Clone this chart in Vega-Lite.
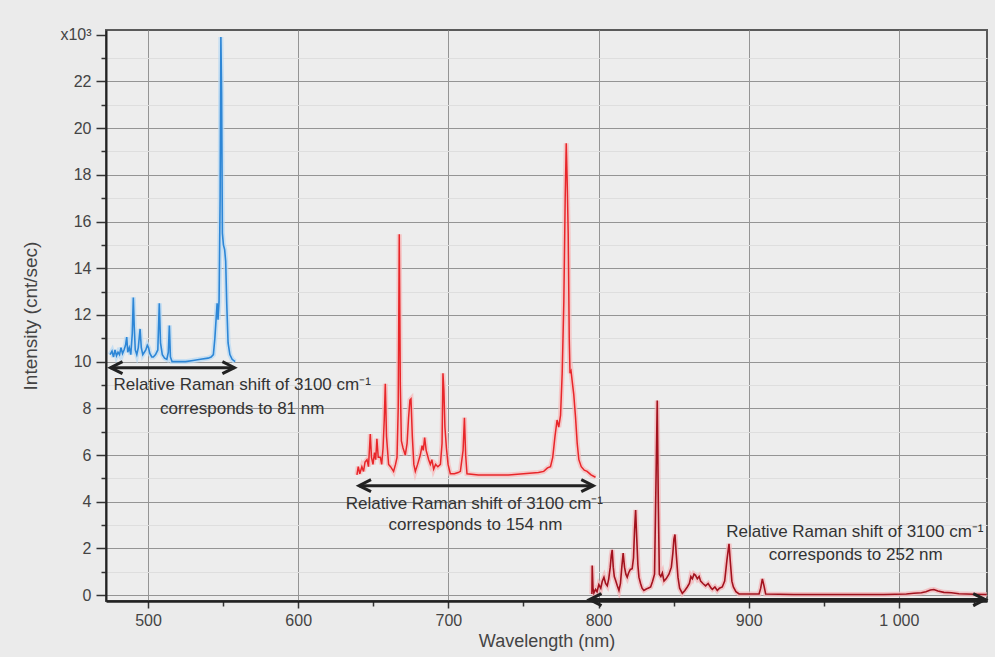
{
  "$schema": "https://vega.github.io/schema/vega-lite/v6.json",
  "width": 881,
  "height": 571,
  "autosize": {"type": "none"},
  "padding": {"left": 106, "top": 30, "right": 8, "bottom": 56},
  "background": "#ebebeb",
  "config": {
    "view": {"fill": "#ededed", "stroke": "#5a5a5a", "strokeWidth": 2},
    "font": "Liberation Sans",
    "axis": {
      "labelFont": "Liberation Sans",
      "titleFont": "Liberation Sans",
      "labelColor": "#444",
      "titleColor": "#444",
      "titleFontWeight": "normal",
      "domainColor": "#222",
      "tickColor": "#333",
      "tickWidth": 1.5
    }
  },
  "datasets": {
    "blue": [
      {"wl": 474.7, "I": 10.3}, {"wl": 476, "I": 10.45}, {"wl": 477, "I": 10.2}, {"wl": 478, "I": 10.5},
      {"wl": 479, "I": 10.25}, {"wl": 480, "I": 10.4}, {"wl": 481, "I": 10.3}, {"wl": 482, "I": 10.6},
      {"wl": 483, "I": 10.35}, {"wl": 484, "I": 10.5}, {"wl": 485, "I": 10.7}, {"wl": 485.8, "I": 11.05},
      {"wl": 486.5, "I": 10.4}, {"wl": 487.5, "I": 10.6}, {"wl": 488.5, "I": 10.3}, {"wl": 489.5, "I": 11.2},
      {"wl": 490.2, "I": 12.75}, {"wl": 490.8, "I": 11.5}, {"wl": 491.5, "I": 10.5}, {"wl": 492.5, "I": 10.3},
      {"wl": 493.5, "I": 10.6}, {"wl": 494.7, "I": 11.4}, {"wl": 495.5, "I": 10.6}, {"wl": 496.5, "I": 10.3},
      {"wl": 497.5, "I": 10.4}, {"wl": 498.5, "I": 10.5}, {"wl": 499.5, "I": 10.7}, {"wl": 500.3, "I": 10.6},
      {"wl": 501.2, "I": 10.35}, {"wl": 502.5, "I": 10.2}, {"wl": 503.5, "I": 10.2}, {"wl": 505, "I": 10.3},
      {"wl": 506.5, "I": 10.5}, {"wl": 507.5, "I": 12.5}, {"wl": 508.3, "I": 10.8}, {"wl": 509.5, "I": 10.3},
      {"wl": 511, "I": 10.15}, {"wl": 512.5, "I": 10.1}, {"wl": 513.5, "I": 10.4}, {"wl": 514.2, "I": 11.55},
      {"wl": 514.9, "I": 10.2}, {"wl": 516, "I": 10.0}, {"wl": 520, "I": 10.0}, {"wl": 525, "I": 10.0},
      {"wl": 530, "I": 10.05}, {"wl": 535, "I": 10.1}, {"wl": 540, "I": 10.15}, {"wl": 542, "I": 10.2},
      {"wl": 543.5, "I": 10.3}, {"wl": 544.5, "I": 11.0}, {"wl": 545.5, "I": 12.0}, {"wl": 546, "I": 12.5},
      {"wl": 546.6, "I": 11.8}, {"wl": 547.3, "I": 12.6}, {"wl": 548, "I": 17}, {"wl": 548.5, "I": 23.9},
      {"wl": 549, "I": 21.5}, {"wl": 549.5, "I": 15.5}, {"wl": 550.2, "I": 15.0}, {"wl": 551, "I": 14.8},
      {"wl": 551.7, "I": 14.3}, {"wl": 552.4, "I": 12.5}, {"wl": 553.3, "I": 10.8}, {"wl": 554.5, "I": 10.3},
      {"wl": 556, "I": 10.1}, {"wl": 558, "I": 10.0}
    ],
    "red": [
      {"wl": 639.1, "I": 5.15}, {"wl": 640, "I": 5.5}, {"wl": 641, "I": 5.2}, {"wl": 642.4, "I": 5.5},
      {"wl": 643.5, "I": 5.3}, {"wl": 644.5, "I": 5.7}, {"wl": 645.8, "I": 5.8}, {"wl": 646.8, "I": 5.5},
      {"wl": 648, "I": 6.9}, {"wl": 648.8, "I": 5.9}, {"wl": 649.8, "I": 5.6}, {"wl": 650.8, "I": 6.1},
      {"wl": 651.6, "I": 5.8}, {"wl": 652.4, "I": 6.7}, {"wl": 653.3, "I": 5.9}, {"wl": 654.7, "I": 5.9},
      {"wl": 655.6, "I": 5.6}, {"wl": 656.5, "I": 6.3}, {"wl": 657.3, "I": 7.5}, {"wl": 658, "I": 9.05},
      {"wl": 658.8, "I": 6.8}, {"wl": 660.2, "I": 5.6}, {"wl": 661.5, "I": 5.5}, {"wl": 663.5, "I": 5.3},
      {"wl": 664.8, "I": 5.6}, {"wl": 665.8, "I": 5.9}, {"wl": 666.6, "I": 8}, {"wl": 667.3, "I": 15.45},
      {"wl": 668, "I": 9}, {"wl": 668.7, "I": 6.6}, {"wl": 669.8, "I": 6.3}, {"wl": 671.3, "I": 6.0},
      {"wl": 672.5, "I": 6.5}, {"wl": 673.5, "I": 7.6}, {"wl": 674.4, "I": 8.35}, {"wl": 675.1, "I": 8.4},
      {"wl": 676, "I": 6.8}, {"wl": 677, "I": 5.6}, {"wl": 678, "I": 5.3}, {"wl": 679.5, "I": 5.6},
      {"wl": 681.3, "I": 6.0}, {"wl": 682.5, "I": 6.4}, {"wl": 683.3, "I": 6.2}, {"wl": 684.2, "I": 6.75},
      {"wl": 685.2, "I": 6.2}, {"wl": 686.9, "I": 5.8}, {"wl": 688, "I": 5.6}, {"wl": 689, "I": 5.8},
      {"wl": 690.2, "I": 5.4}, {"wl": 691.5, "I": 5.6}, {"wl": 693, "I": 5.5}, {"wl": 694.7, "I": 5.6},
      {"wl": 695.8, "I": 6.5}, {"wl": 696.4, "I": 9.5}, {"wl": 697, "I": 8.8}, {"wl": 697.7, "I": 7.2},
      {"wl": 698.7, "I": 6.3}, {"wl": 699.8, "I": 5.6}, {"wl": 701.3, "I": 5.2}, {"wl": 704, "I": 5.2},
      {"wl": 706.5, "I": 5.25}, {"wl": 708, "I": 5.3}, {"wl": 709.8, "I": 6.2}, {"wl": 710.7, "I": 7.6},
      {"wl": 711.5, "I": 6.0}, {"wl": 712.4, "I": 5.2}, {"wl": 720, "I": 5.15}, {"wl": 730, "I": 5.15},
      {"wl": 740, "I": 5.15}, {"wl": 750, "I": 5.2}, {"wl": 760, "I": 5.25}, {"wl": 763.5, "I": 5.3},
      {"wl": 766, "I": 5.45}, {"wl": 768, "I": 5.5}, {"wl": 769.5, "I": 5.9}, {"wl": 771, "I": 6.8},
      {"wl": 772.4, "I": 7.5}, {"wl": 773.5, "I": 7.2}, {"wl": 774.7, "I": 7.7}, {"wl": 775.8, "I": 9.5},
      {"wl": 776.9, "I": 12.6}, {"wl": 777.8, "I": 17}, {"wl": 778.5, "I": 19.35}, {"wl": 779.2, "I": 17.5},
      {"wl": 779.8, "I": 15.5}, {"wl": 780.5, "I": 11}, {"wl": 781, "I": 9.5}, {"wl": 781.7, "I": 9.6},
      {"wl": 782.4, "I": 9.2}, {"wl": 783.5, "I": 8.6}, {"wl": 784.7, "I": 7.6}, {"wl": 785.8, "I": 6.5},
      {"wl": 786.9, "I": 5.8}, {"wl": 788.5, "I": 5.5}, {"wl": 790.5, "I": 5.35}, {"wl": 792.4, "I": 5.3},
      {"wl": 795, "I": 5.15}, {"wl": 798, "I": 5.05}
    ],
    "dark": [
      {"wl": 795.6, "I": 0.05}, {"wl": 795.8, "I": 1.27}, {"wl": 796.3, "I": 0.3}, {"wl": 796.9, "I": 0.1},
      {"wl": 798, "I": 0.25}, {"wl": 799, "I": 0.15}, {"wl": 800.2, "I": 0.45}, {"wl": 801.5, "I": 0.3},
      {"wl": 802.5, "I": 0.6}, {"wl": 803.6, "I": 0.77}, {"wl": 804.7, "I": 0.5}, {"wl": 805.8, "I": 0.4},
      {"wl": 806.8, "I": 0.7}, {"wl": 807.8, "I": 1.2}, {"wl": 808.5, "I": 1.7}, {"wl": 809.1, "I": 1.94},
      {"wl": 809.8, "I": 1.2}, {"wl": 810.5, "I": 0.8}, {"wl": 811.3, "I": 0.65}, {"wl": 812.5, "I": 0.4},
      {"wl": 813.6, "I": 0.2}, {"wl": 814.6, "I": 0.5}, {"wl": 815.5, "I": 1.2}, {"wl": 816.4, "I": 1.8},
      {"wl": 817.3, "I": 1.2}, {"wl": 818.2, "I": 0.9}, {"wl": 819.1, "I": 0.77}, {"wl": 820, "I": 0.95},
      {"wl": 821.2, "I": 1.1}, {"wl": 822.4, "I": 1.13}, {"wl": 823.3, "I": 1.6}, {"wl": 824, "I": 2.8},
      {"wl": 824.7, "I": 3.65}, {"wl": 825.4, "I": 2.5}, {"wl": 826.2, "I": 1.3}, {"wl": 826.9, "I": 0.77},
      {"wl": 828, "I": 0.5}, {"wl": 829, "I": 0.3}, {"wl": 830.2, "I": 0.2}, {"wl": 831.5, "I": 0.25},
      {"wl": 833, "I": 0.3}, {"wl": 834.7, "I": 0.35}, {"wl": 836, "I": 0.6}, {"wl": 837.3, "I": 0.9},
      {"wl": 838.3, "I": 5}, {"wl": 839.1, "I": 8.33}, {"wl": 839.8, "I": 4}, {"wl": 840.5, "I": 0.9},
      {"wl": 841.5, "I": 0.8}, {"wl": 842.5, "I": 0.95}, {"wl": 843.6, "I": 0.6}, {"wl": 845, "I": 0.7},
      {"wl": 846.9, "I": 0.9}, {"wl": 848.5, "I": 1.2}, {"wl": 849.5, "I": 1.8}, {"wl": 850.2, "I": 2.4},
      {"wl": 850.9, "I": 2.6}, {"wl": 851.7, "I": 1.8}, {"wl": 852.9, "I": 0.77}, {"wl": 854, "I": 0.3},
      {"wl": 855.8, "I": 0.08}, {"wl": 857.5, "I": 0.2}, {"wl": 859.1, "I": 0.35}, {"wl": 860.5, "I": 0.5},
      {"wl": 861.5, "I": 0.8}, {"wl": 862.5, "I": 0.7}, {"wl": 863.6, "I": 0.9}, {"wl": 864.6, "I": 0.85},
      {"wl": 865.8, "I": 0.7}, {"wl": 867, "I": 0.8}, {"wl": 868, "I": 0.6}, {"wl": 869.5, "I": 0.5},
      {"wl": 871.3, "I": 0.4}, {"wl": 873, "I": 0.5}, {"wl": 875, "I": 0.3}, {"wl": 875.8, "I": 0.25},
      {"wl": 877.5, "I": 0.35}, {"wl": 879.1, "I": 0.2}, {"wl": 880.5, "I": 0.3}, {"wl": 882.4, "I": 0.35},
      {"wl": 884, "I": 0.6}, {"wl": 885.5, "I": 1.5}, {"wl": 886.9, "I": 2.2}, {"wl": 887.8, "I": 1.4},
      {"wl": 888.8, "I": 0.6}, {"wl": 889.8, "I": 0.35}, {"wl": 891.5, "I": 0.15}, {"wl": 893.6, "I": 0.05},
      {"wl": 900, "I": 0.05}, {"wl": 906.9, "I": 0.05}, {"wl": 908, "I": 0.3}, {"wl": 909.1, "I": 0.7},
      {"wl": 910.2, "I": 0.4}, {"wl": 911.3, "I": 0.05}, {"wl": 930, "I": 0.03}, {"wl": 950, "I": 0.03},
      {"wl": 970, "I": 0.03}, {"wl": 990, "I": 0.03}, {"wl": 1005, "I": 0.05}, {"wl": 1010, "I": 0.08},
      {"wl": 1015, "I": 0.1}, {"wl": 1018, "I": 0.15}, {"wl": 1021, "I": 0.22}, {"wl": 1023.3, "I": 0.24},
      {"wl": 1026, "I": 0.18}, {"wl": 1030, "I": 0.12}, {"wl": 1035, "I": 0.1}, {"wl": 1040, "I": 0.06},
      {"wl": 1050, "I": 0.04}, {"wl": 1058.5, "I": 0.03}
    ],
    "arrows": [
      {"wl": 475, "wl2": 557.5, "I": 9.74},
      {"wl": 640.5, "wl2": 796.5, "I": 4.69},
      {"wl": 794, "wl2": 1057.5, "I": -0.19}
    ],
    "headsL": [
      {"wl": 475, "I": 9.74},
      {"wl": 640.5, "I": 4.69},
      {"wl": 794, "I": -0.19}
    ],
    "headsR": [
      {"wl": 557.5, "I": 9.74},
      {"wl": 796.5, "I": 4.69},
      {"wl": 1057.5, "I": -0.19}
    ],
    "labels": [
      {"wl": 562.7, "I": 9.02, "text": "Relative Raman shift of 3100 cm⁻¹"},
      {"wl": 562.7, "I": 7.98, "text": "corresponds to 81 nm"},
      {"wl": 717.3, "I": 3.92, "text": "Relative Raman shift of 3100 cm⁻¹"},
      {"wl": 718, "I": 3.0, "text": "corresponds to 154 nm"},
      {"wl": 970.7, "I": 2.69, "text": "Relative Raman shift of 3100 cm⁻¹"},
      {"wl": 971.3, "I": 1.7, "text": "corresponds to 252 nm"}
    ]
  },
  "encoding": {
    "x": {
      "field": "wl",
      "type": "quantitative",
      "scale": {"domain": [472, 1058.7], "nice": false, "zero": false},
      "axis": {
        "title": "Wavelength (nm)",
        "values": [500, 550, 600, 650, 700, 750, 800, 850, 900, 950, 1000, 1050],
        "format": "d",
        "labelExpr": "datum.value % 100 != 0 ? '' : (datum.value == 1000 ? '1 000' : datum.label)",
        "tickSize": {"condition": {"test": "datum.value % 100 != 0", "value": 5}, "value": 7},
        "gridColor": "#949494",
        "gridOpacity": {"condition": {"test": "datum.value % 100 != 0", "value": 0}, "value": 1},
        "domainWidth": 2.5,
        "labelFontSize": 16,
        "labelPadding": 4,
        "titleFontSize": 18,
        "titlePadding": 4
      }
    },
    "y": {
      "field": "I",
      "type": "quantitative",
      "scale": {"domain": [-0.25, 24.2], "nice": false, "zero": false},
      "axis": {
        "title": "Intensity (cnt/sec)",
        "values": [0, 1, 2, 3, 4, 5, 6, 7, 8, 9, 10, 11, 12, 13, 14, 15, 16, 17, 18, 19, 20, 21, 22, 23, 24],
        "labelExpr": "datum.value == 24 ? 'x10³' : (datum.value % 2 == 1 ? '' : datum.label)",
        "tickSize": {"condition": {"test": "datum.value % 2 == 1", "value": 5}, "value": 10},
        "gridColor": {"condition": {"test": "datum.value % 2 == 1", "value": "#dedede"}, "value": "#949494"},
        "gridOpacity": {"condition": {"test": "datum.value == 24", "value": 0}, "value": 1},
        "domainWidth": 2,
        "labelFontSize": 16,
        "labelPadding": 5,
        "titleFontSize": 19,
        "titlePadding": 19
      }
    }
  },
  "layer": [
    {"data": {"name": "blue"}, "mark": {"type": "line", "color": "#b9d9f3", "strokeWidth": 5, "opacity": 0.75}},
    {"data": {"name": "blue"}, "mark": {"type": "line", "color": "#2d86d6", "strokeWidth": 1.6}},
    {"data": {"name": "red"}, "mark": {"type": "line", "color": "#f6bcbc", "strokeWidth": 5, "opacity": 0.75}},
    {"data": {"name": "red"}, "mark": {"type": "line", "color": "#e8262a", "strokeWidth": 1.5}},
    {"data": {"name": "dark"}, "mark": {"type": "line", "color": "#f3b6b8", "strokeWidth": 5, "opacity": 0.75}},
    {"data": {"name": "dark"}, "mark": {"type": "line", "color": "#a3121e", "strokeWidth": 1.6}},
    {"data": {"name": "arrows"}, "mark": {"type": "rule", "color": "#222", "strokeWidth": 3}, "encoding": {"x2": {"field": "wl2"}}},
    {"data": {"name": "headsL"}, "mark": {"type": "point", "shape": "M 2 -1 L 0 0 L 2 1", "size": 144, "filled": false, "color": "#222", "strokeWidth": 3, "opacity": 1}},
    {"data": {"name": "headsR"}, "mark": {"type": "point", "shape": "M -2 -1 L 0 0 L -2 1", "size": 144, "filled": false, "color": "#222", "strokeWidth": 3, "opacity": 1}},
    {"data": {"name": "labels"}, "mark": {"type": "text", "font": "Liberation Sans", "fontSize": 17, "color": "#333", "align": "center", "baseline": "middle"}, "encoding": {"text": {"field": "text"}}}
  ]
}
